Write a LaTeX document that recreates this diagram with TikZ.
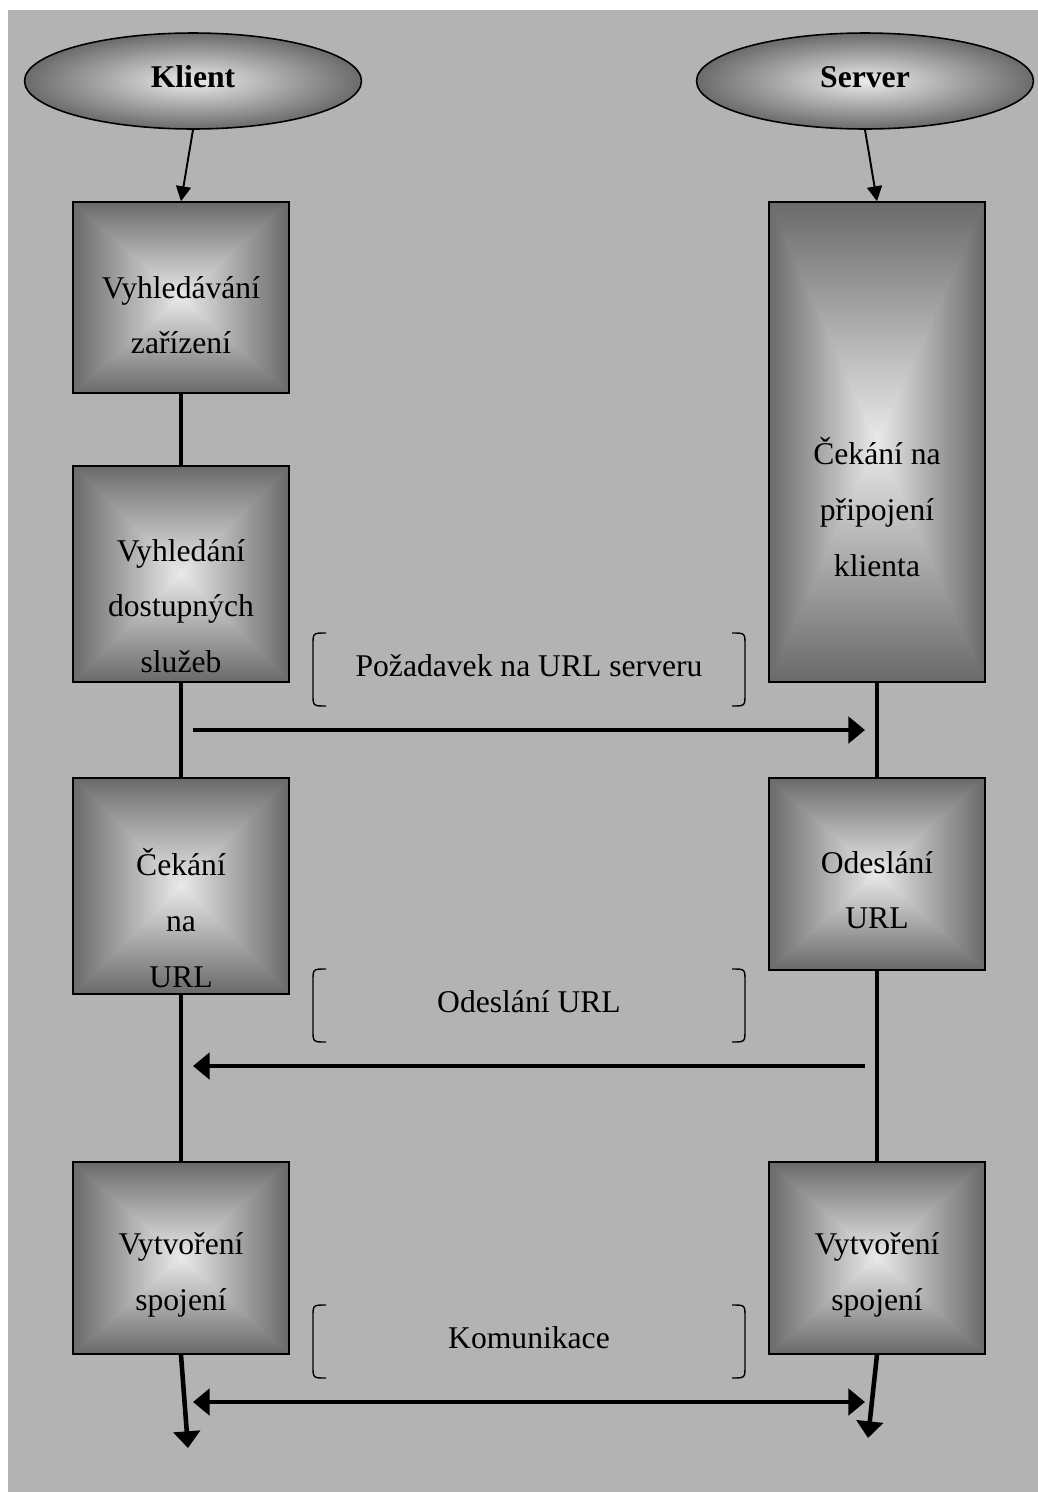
\documentclass[tikz,border=0pt]{standalone}
\usepackage{fontspec}
\setmainfont{Liberation Serif}
\usetikzlibrary{arrows.meta,shapes.geometric,calc}
\definecolor{bg}{HTML}{B3B3B3}
\definecolor{shdark}{HTML}{6B6B6B}
\definecolor{shlight}{HTML}{EBEBEB}
\tikzset{
  pyr/.style={draw, line width=0.9pt, inner sep=0pt, minimum width=4.32cm,
    path picture={
      \foreach \i in {0,2,...,98}{
        \fill[shlight!\i!shdark] ($(path picture bounding box.north west)!\i/100!(path picture bounding box.center)$) rectangle ($(path picture bounding box.south east)!\i/100!(path picture bounding box.center)$);
      }
    }},
  oval/.style={ellipse, draw, line width=0.9pt, inner sep=0pt, minimum width=6.74cm, minimum height=1.92cm,
    inner color=shlight, outer color=shdark, text depth=4.6pt, font=\bfseries\fontsize{18}{22}\selectfont},
  txt/.style={align=center, font=\fontsize{18}{31.7}\selectfont},
  link/.style={line width=2.6pt},
  flow/.style={line width=2.6pt, -{Triangle[length=9.5pt,width=15pt]}},
  both/.style={line width=2.6pt, {Triangle[length=9.5pt,width=15pt]}-{Triangle[length=9.5pt,width=15pt]}},
  start/.style={line width=1.1pt, -{Triangle[length=8.5pt,width=8.5pt]}},
  brk/.style={line width=0.8pt}
}
\begin{document}
\begin{tikzpicture}[x=0.02cm, y=-0.02cm]
  \useasboundingbox (0,0) rectangle (1038,1492);
  \fill[bg] (8,10) rectangle (1038,1492);

  % klient
  \node[oval] (klient) at (193,81) {Klient};
  \node[pyr, minimum height=3.82cm] (hledani) at (181,297.5) {};
  \node[pyr, minimum height=4.32cm] (sluzby) at (181,574) {};
  \node[pyr, minimum height=4.32cm] (cekurl) at (181,886) {};
  \node[pyr, minimum height=3.84cm] (spojk) at (181,1258) {};
  \node[txt] (thledani) at (181,315) {Vyhledávání\\zařízení};
  \node[txt] (tsluzby) at (181,606) {Vyhledání\\dostupných\\služeb};
  \node[txt] (tcekurl) at (181,918) {Čekání\\na\\URL};
  \node[txt] (tspojk) at (181,1275) {Vytvoření\\spojení};

  % server
  \node[oval] (server) at (865,81) {Server};
  \node[pyr, minimum height=9.6cm] (cekani) at (877,442) {};
  \node[pyr, minimum height=3.84cm] (odesl) at (877,874) {};
  \node[pyr, minimum height=3.84cm] (spojs) at (877,1258) {};
  \node[txt] (tcekani) at (877,507) {Čekání na\\připojení\\klienta};
  \node[txt] (todesl) at (877,890) {Odeslání\\URL};
  \node[txt] (tspojs) at (877,1275) {Vytvoření\\spojení};

  \draw[start] (klient.south) -- (hledani.north);
  \draw[start] (server.south) -- (cekani.north);
  \draw[link] (hledani.south) -- (sluzby.north);
  \draw[link] (sluzby.south) -- (cekurl.north);
  \draw[link] (cekurl.south) -- (spojk.north);
  \draw[link] (cekani.south) -- (odesl.north);
  \draw[link] (odesl.south) -- (spojs.north);

  \coordinate (reql) at (193,730);
  \coordinate (reqr) at (865,730);
  \coordinate (urlr) at (865,1066);
  \coordinate (urll) at (193,1066);
  \coordinate (koml) at (193,1402);
  \coordinate (komr) at (865,1402);
  \coordinate (endk) at (188,1448);
  \coordinate (ends) at (868,1438);
  \draw[flow] (reql) -- (reqr);
  \draw[flow] (urlr) -- (urll);
  \draw[both] (koml) -- (komr);
  \draw[flow] (spojk.south) -- (endk);
  \draw[flow] (spojs.south) -- (ends);

  % zavorky
  \foreach \y/\nm/\txt in {633/req/{Požadavek na URL serveru}, 969/url/{Odeslání URL}, 1305/kom/{Komunikace}}{
    \draw[brk] (326,\y) .. controls (313,\y) .. (313,\y+12) -- (313,\y+61) .. controls (313,\y+73) .. (326,\y+73);
    \draw[brk] (732,\y) .. controls (745,\y) .. (745,\y+12) -- (745,\y+61) .. controls (745,\y+73) .. (732,\y+73);
    \node[txt] (\nm) at (529,\y+33) {\txt};
  }
\end{tikzpicture}
\end{document}
